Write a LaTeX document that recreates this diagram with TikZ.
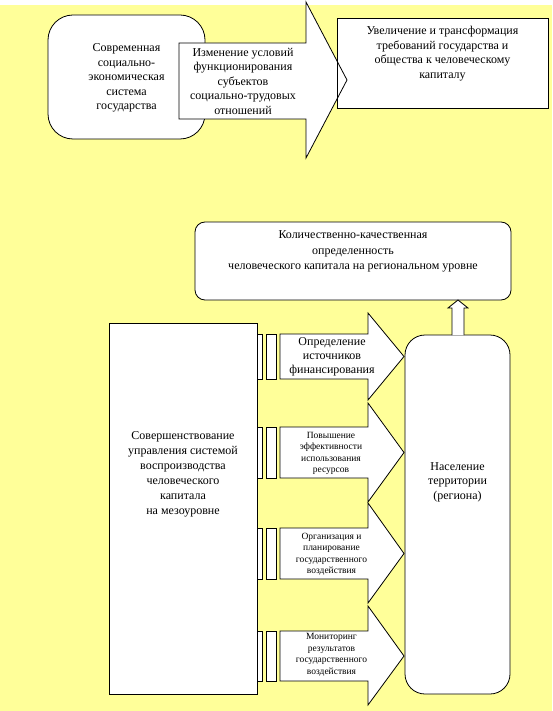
\documentclass[tikz,border=0pt]{standalone}
\usepackage{fontspec}
\setmainfont{Liberation Serif}
\definecolor{bgyellow}{HTML}{FFFF99}
\tikzset{
  px/.style={x=1pt,y=-1pt},
  shp/.style={draw=black,fill=white,line width=0.8pt},
  boxn/.style={shp,rectangle,inner sep=0pt,outer sep=0pt},
  rbox/.style={boxn,rounded corners=#1},
  txt/.style={align=center,inner sep=0pt,font=\fontsize{12}{14.5}\selectfont},
  smalltxt/.style={align=center,inner sep=0pt,font=\fontsize{9.5}{11.5}\selectfont},
}
\begin{document}
\begin{tikzpicture}[px]
\useasboundingbox (0,0) rectangle (552,711);
\fill[bgyellow] (0,5) rectangle (552,711);

% ---- top part ----
\node[rbox=25pt,minimum width=157pt,minimum height=124pt] (sys) at (126.5,77) {};
\node[boxn,minimum width=211pt,minimum height=90pt] (inc) at (442.5,63) {};
\draw[shp] (179,43) -- (306,43) -- (306,2) -- (347,80) -- (306,158) -- (306,119) -- (179,119) -- cycle;
\coordinate (bigtip) at (347,80);
\draw[line width=0.8pt] (inc.north west) rectangle (inc.south east);
\node[txt] (sys-t) at (126.5,78) {Современная\\социально-\\экономическая\\система\\государства};
\node[txt] (chg-t) at (243,81) {Изменение условий\\функционирования\\субъектов\\социально-трудовых\\отношений};
\node[txt] (inc-t) at (442.5,53.5) {Увеличение и трансформация\\требований государства и\\общества к человеческому\\капиталу};

% ---- middle box ----
\node[rbox=10pt,minimum width=316pt,minimum height=78pt] (hc) at (353,261) {};
\node[txt,font=\fontsize{12}{15.5}\selectfont] (hc-t) at (353,251.5) {Количественно-качественная\\определенность\\человеческого капитала на региональном уровне};

% ---- lower part ----
\node[boxn,minimum width=148pt,minimum height=371pt] (meso) at (183,508.5) {};
\node[txt,font=\fontsize{12}{15}\selectfont] (meso-t) at (183,474.5) {Совершенствование\\управления системой\\воспроизводства\\человеческого\\капитала\\на мезоуровне};

% rows: top, bottom, head top, head bottom
\foreach \t/\b/\ht/\hb/\i in {334/379/313/400/1, 427/478/403/502/2, 528/579/503/603/3, 631/681/606/705/4}{
  \draw[shp] (257,\t) rectangle (262,\b);
  \draw[shp] (266,\t) rectangle (276,\b);
  \draw[shp] (280,\t) -- (368,\t) -- (368,\ht) -- (404,{(\t+\b)/2}) -- (368,\hb) -- (368,\b) -- (280,\b) -- cycle;
}

\node[rbox=20pt,minimum width=105pt,minimum height=359pt] (reg) at (457.5,514.5) {};
\node[txt] (reg-t) at (457.5,482) {Население\\территории\\(региона)};

\node[txt,font=\fontsize{12}{14}\selectfont] (a1-t) at (332,357) {Определение\\источников\\финансирования};
\node[smalltxt] (a2-t) at (331,453.5) {Повышение\\эффективности\\использования\\ресурсов};
\node[smalltxt] (a3-t) at (331.5,554.5) {Организация и\\планирование\\государственного\\воздействия};
\node[smalltxt] (a4-t) at (331.5,655) {Мониторинг\\результатов\\государственного\\воздействия};

% up arrow from region to middle box
\draw[shp] (reg.north -| 452,0) -- (452,308) -- (448,308) -- (hc.south -| 458,0) -- (468,308) -- (464,308) -- (reg.north -| 464,0) ;
\end{tikzpicture}
\end{document}
